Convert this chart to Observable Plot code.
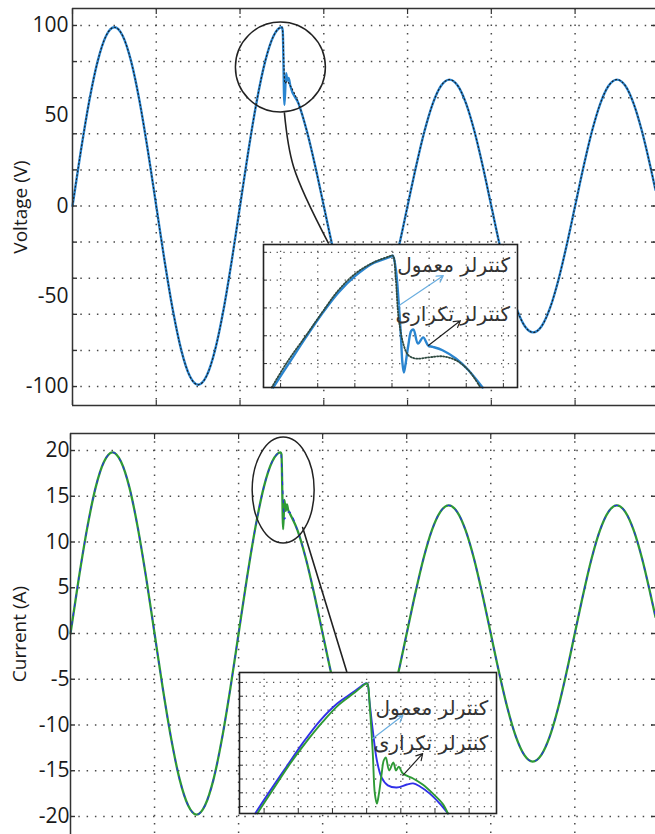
<!DOCTYPE html>
<html><head><meta charset="utf-8">
<script src="https://cdn.jsdelivr.net/npm/d3@7"></script>
<script src="https://cdn.jsdelivr.net/npm/@observablehq/plot@0.6"></script>
<style>
body{margin:0;background:#fff;}
#wrap{position:relative;width:655px;height:834px;overflow:hidden;background:#fff;}
</style></head><body><div id="wrap"></div>
<script>
// ---------- DATA (time in ms) ----------
const xTicks = [0, 10, 20, 30, 40, 50, 60];
const xDomain = [0, 69.6];

const voltDomain = [-110.5, 109.4];
const voltGrid = [-100, -80, -60, -40, -20, 0, 20, 40, 60, 80, 100];
const voltLabels = [-100, -50, 0, 50, 100];

const currDomain = [-21.97, 21.86];
const currGrid = [-20, -15, -10, -5, 0, 5, 10, 15, 20];
const currLabels = [-20, -15, -10, -5, 0, 5, 10, 15, 20];

const tBefore = [0,1,2,3,4,5,6,7,8,9,10,11,12,13,14,15,16,17,18,19,20,21,22,23,24,25];
const tAfter = [26,27,28,29,30,31,32,33,34,35,36,37,38,39,40,41,42,43,44,45,46,47,48,49,50,51,52,53,54,55,56,57,58,59,60,61,62,63,64,65,66,67,68,69,69.6];

const voltBefore = [0,30.6,58.2,80.1,94.2,99,94.2,80.1,58.2,30.6,0,-30.6,-58.2,-80.1,-94.2,-99,-94.2,-80.1,-58.2,-30.6,0,30.6,58.2,80.1,94.2,99];
const voltAfter = [66.6,56.6,41.1,21.6,0,-21.6,-41.1,-56.6,-66.6,-70,-66.6,-56.6,-41.1,-21.6,0,21.6,41.1,56.6,66.6,70,66.6,56.6,41.1,21.6,0,-21.6,-41.1,-56.6,-66.6,-70,-66.6,-56.6,-41.1,-21.6,0,21.6,41.1,56.6,66.6,70,66.6,56.6,41.1,21.6,8.8];
const vRefDistT = [25.1, 25.35, 25.6];
const vRefDistV = [96, 68, 69];
const vMeasDistT = [25.1, 25.3, 25.5, 25.65, 25.8];
const vMeasDistV = [97, 56, 73.5, 69.5, 71];

const currBefore = [0,6.1,11.6,16.0,18.8,19.8,18.8,16.0,11.6,6.1,0,-6.1,-11.6,-16.0,-18.8,-19.8,-18.8,-16.0,-11.6,-6.1,0,6.1,11.6,16.0,18.8,19.8];
const currAfter = [13.3,11.3,8.2,4.3,0,-4.3,-8.2,-11.3,-13.3,-14,-13.3,-11.3,-8.2,-4.3,0,4.3,8.2,11.3,13.3,14,13.3,11.3,8.2,4.3,0,-4.3,-8.2,-11.3,-13.3,-14,-13.3,-11.3,-8.2,-4.3,0,4.3,8.2,11.3,13.3,14,13.3,11.3,8.2,4.3,1.8];
const iGreenDistT = [25.1, 25.3, 25.45, 25.6, 25.75, 25.9];
const iGreenDistV = [19.6, 11.4, 14.6, 13.4, 14.1, 13.5];
const iBlueDistT = [25.2, 25.45, 25.75];
const iBlueDistV = [17.0, 12.5, 13.0];

// annotations (in data units of each main panel)
const topCircle = [{t: 24.82, v: 77}];
const topLinkT = [25.3, 26.4, 30.55];
const topLinkV = [51.5, 21.6, -20.5];
const botEllipse = {t: 25.36, v: 15.63};
const botLinkT = [27.62, 32.86];
const botLinkV = [11.58, -4.15];

// top inset (zoom of voltage)
const insTopXDomain = [23.27, 26.69];
const insTopYDomain = [75.7, 101.4];
const insTopXGrid = [23.5, 24, 24.5, 25, 25.5, 26, 26.5];
const insTopYGrid = [80, 85, 90, 95, 100];
const insTopBlueT = [23.40,23.61,23.84,24.06,24.28,24.51,24.74,24.98,25.01,25.05,25.09,25.12,25.14,25.16,25.18,25.22,25.26,25.29,25.35,25.42,25.49,25.55,25.68,25.86,26.03,26.22];
const insTopBlueV = [75.7,80.0,84.7,89.0,92.8,95.8,98.0,99.2,99.4,97.1,91.0,85.0,80.2,78.4,79.7,83.3,85.9,86.1,83.6,84.7,83.2,83.0,82.4,80.9,78.8,75.7];
const insTopRefT = [23.38,23.59,23.84,24.06,24.28,24.51,24.74,24.95,25.01,25.05,25.09,25.16,25.22,25.32,25.49,25.68,25.86,26.03,26.19];
const insTopRefV = [75.7,80.3,85.0,89.2,93.2,96.2,98.1,99.2,99.4,95.3,88.1,83.2,81.5,80.9,81.1,81.3,80.6,78.8,75.7];
const insTopArrows = [
  {t1: 25.09, v1: 90.4, t2: 25.69, v2: 95.8, c: "#6aaee0"},
  {t1: 25.49, v1: 83.25, t2: 25.92, v2: 87.7, c: "#222"}
];
const insTopLabels = [
  {t: 26.59, v: 97.6, s: "کنترلر معمول"},
  {t: 26.59, v: 88.8, s: "کنترلر تکراری"}
];

// bottom inset (zoom of current)
const insBotXDomain = [23.14, 26.90];
const insBotYDomain = [15.25, 20.36];
const insBotXGrid = [23.5, 24, 24.5, 25, 25.5, 26, 26.5];
const insBotYGrid = [15.5, 16, 16.5, 17, 17.5, 18, 18.5, 19, 19.5, 20];
const insBotBlueT = [23.37,23.59,23.84,24.07,24.32,24.57,24.80,24.98,25.01,25.04,25.09,25.15,25.22,25.31,25.44,25.59,25.68,25.78,25.92,26.07,26.19];
const insBotBlueV = [15.25,16.08,16.99,17.82,18.62,19.24,19.64,19.96,19.96,19.35,18.26,17.17,16.55,16.27,16.19,16.30,16.34,16.23,15.98,15.61,15.25];
const insBotGreenT = [23.40,23.62,23.85,24.10,24.35,24.58,24.83,24.99,25.01,25.05,25.09,25.12,25.15,25.18,25.22,25.25,25.28,25.33,25.39,25.43,25.47,25.53,25.68,25.82,25.97,26.11,26.19];
const insBotGreenV = [15.25,16.08,16.95,17.79,18.55,19.16,19.64,19.96,19.96,18.98,17.43,15.97,15.61,15.97,16.70,17.17,17.28,16.81,17.10,16.81,16.95,16.70,16.52,16.30,15.97,15.61,15.25];
const insBotArrows = [
  {t1: 25.09, v1: 17.97, t2: 25.53, v2: 18.80, c: "#6aaee0"},
  {t1: 25.53, v1: 16.63, t2: 25.82, v2: 17.42, c: "#222"}
];
const insBotLabels = [
  {t: 26.78, v: 19.06, s: "کنترلر معمول"},
  {t: 26.78, v: 17.79, s: "کنترلر تکراری"}
];

// ---------- helpers ----------
const zip = (ts, vs) => ts.map((t, i) => ({t, v: vs[i]}));
const series = (tb, vb, td, vd, ta, va) => [...zip(tb, vb), ...zip(td, vd), ...zip(ta, va)];

const voltRef = series(tBefore, voltBefore, vRefDistT, vRefDistV, tAfter, voltAfter);
const voltMeas = series(tBefore, voltBefore, vMeasDistT, vMeasDistV, tAfter, voltAfter);
const currGreen = series(tBefore, currBefore, iGreenDistT, iGreenDistV, tAfter, currAfter);
const currBlue = series(tBefore, currBefore, iBlueDistT, iBlueDistV, tAfter, currAfter);

const gridStyle = {stroke: "#4a4a4a", strokeOpacity: 1, strokeWidth: 1.5, strokeDasharray: "1.5,6.8"};
const frameStyle = {stroke: "#333", strokeWidth: 1.5};
const font = "'Open Sans', 'Noto Sans', sans-serif";
const faFont = "'DejaVu Sans', sans-serif";
const wrap = document.getElementById("wrap");
const noLabel = () => "";

function xTickAxes(ticks, anchors) {
  return anchors.map(anchor => Plot.axisX({anchor, ticks, tickSize: -5, tickFormat: noLabel, label: null, stroke: "#333", strokeWidth: 1.2}));
}
function yTickAxes(ticks) {
  return ["left", "right"].map(anchor => Plot.axisY({anchor, ticks, tickSize: -5, tickFormat: noLabel, label: null, stroke: "#333", strokeWidth: 1.4}));
}

// ---------- TOP PANEL ----------
const topPlot = Plot.plot({
  width: 655, height: 420,
  marginLeft: 72, marginRight: 0, marginTop: 8, marginBottom: 15,
  x: {domain: xDomain, axis: null},
  y: {domain: voltDomain, axis: null},
  style: {position: "absolute", left: "0px", top: "0px", overflow: "visible", background: "transparent", fontFamily: font, color: "#222"},
  marks: [
    Plot.ruleX(xTicks.slice(1), gridStyle),
    Plot.ruleY(voltGrid, gridStyle),
    Plot.line(voltMeas, {x: "t", y: "v", stroke: "#2a85d0", strokeWidth: 2.4, curve: "monotone-x"}),
    Plot.line(voltRef, {x: "t", y: "v", stroke: "#1a1a1a", strokeWidth: 1.1, strokeDasharray: "1.2,2.6", curve: "monotone-x"}),
    Plot.dot(topCircle, {x: "t", y: "v", r: 45, stroke: "#222", strokeWidth: 1.5, fill: "none"}),
    Plot.line(zip(topLinkT, topLinkV), {x: "t", y: "v", curve: "catmull-rom", stroke: "#222", strokeWidth: 1.6}),
    Plot.ruleX([xDomain[0]], frameStyle),
    Plot.ruleY(voltDomain, frameStyle),
    ...xTickAxes(xTicks, ["top", "bottom"]),
    ...yTickAxes(voltGrid),
    Plot.text(voltLabels, {frameAnchor: "left", y: d => d, text: d => String(d), textAnchor: "end", dx: -4, fontSize: 21, fill: "#1a1a1a"}),
    Plot.text(["Voltage (V)"], {frameAnchor: "left", dx: -52, rotate: -90, textAnchor: "middle", fontSize: 19, fill: "#1a1a1a"})
  ]
});
wrap.appendChild(topPlot);

// ---------- BOTTOM PANEL ----------
const botPlot = Plot.plot({
  width: 655, height: 414,
  marginLeft: 70, marginRight: 0, marginTop: 13, marginBottom: 0,
  x: {domain: xDomain, axis: null},
  y: {domain: currDomain, axis: null},
  style: {position: "absolute", left: "0px", top: "420px", overflow: "visible", background: "transparent", fontFamily: font, color: "#222"},
  marks: [
    Plot.ruleX(xTicks.slice(1), gridStyle),
    Plot.ruleY(currGrid, gridStyle),
    Plot.line(currGreen, {x: "t", y: "v", stroke: "#2e9a35", strokeWidth: 2.3, curve: "monotone-x"}),
    Plot.line(currBlue, {x: "t", y: "v", stroke: "#2a2af0", strokeWidth: 1.1, strokeDasharray: "3,6", curve: "monotone-x"}),
    Plot.line(zip(botLinkT, botLinkV), {x: "t", y: "v", stroke: "#222", strokeWidth: 1.6}),
    Plot.ruleX([xDomain[0]], frameStyle),
    Plot.ruleY([currDomain[1]], frameStyle),
    ...xTickAxes(xTicks, ["top"]),
    ...yTickAxes(currGrid),
    Plot.text(currLabels, {frameAnchor: "left", y: d => d, text: d => String(d), textAnchor: "end", dx: -1, fontSize: 21, fill: "#1a1a1a"}),
    Plot.text(["Current (A)"], {frameAnchor: "left", dx: -51, rotate: -90, textAnchor: "middle", fontSize: 19, fill: "#1a1a1a"})
  ]
});
wrap.appendChild(botPlot);
{
  const sx = botPlot.scale("x"), sy = botPlot.scale("y");
  d3.select(botPlot).append("ellipse")
    .attr("cx", sx.apply(botEllipse.t)).attr("cy", sy.apply(botEllipse.v))
    .attr("rx", 31).attr("ry", 53)
    .attr("fill", "none").attr("stroke", "#222").attr("stroke-width", 1.5);
}

// ---------- INSETS ----------
const insetGrid = {stroke: "#555", strokeWidth: 1.3, strokeDasharray: "1.3,5.5"};
function insetTicks(xg, yg) {
  return [
    Plot.axisX({anchor: "bottom", ticks: xg, tickSize: -4, tickFormat: noLabel, label: null, stroke: "#333"}),
    Plot.axisY({anchor: "left", ticks: yg, tickSize: -4, tickFormat: noLabel, label: null, stroke: "#333"})
  ];
}

const insTop = Plot.plot({
  width: 254, height: 143, margin: 0,
  x: {domain: insTopXDomain, axis: null},
  y: {domain: insTopYDomain, axis: null},
  style: {position: "absolute", left: "263px", top: "244px", overflow: "visible", background: "white", fontFamily: faFont},
  marks: [
    Plot.ruleX(insTopXGrid, insetGrid),
    Plot.ruleY(insTopYGrid, insetGrid),
    Plot.line(zip(insTopBlueT, insTopBlueV), {x: "t", y: "v", stroke: "#2a85d0", strokeWidth: 2.4, curve: "catmull-rom"}),
    Plot.line(zip(insTopRefT, insTopRefV), {x: "t", y: "v", stroke: "#2f4a40", strokeWidth: 1.8, strokeDasharray: "1.2,1.8", curve: "catmull-rom"}),
    Plot.arrow(insTopArrows, {x1: "t1", y1: "v1", x2: "t2", y2: "v2", stroke: "c", strokeWidth: 1.2, headLength: 9}),
    Plot.text(insTopLabels, {x: "t", y: "v", text: "s", textAnchor: "end", fontSize: 20, fill: "#333", fontFamily: faFont}),
    ...insetTicks(insTopXGrid, insTopYGrid),
    Plot.frame({stroke: "#222", strokeWidth: 1.6})
  ]
});
wrap.appendChild(insTop);

const insBot = Plot.plot({
  width: 257, height: 141, margin: 0,
  x: {domain: insBotXDomain, axis: null},
  y: {domain: insBotYDomain, axis: null},
  style: {position: "absolute", left: "239px", top: "672px", overflow: "visible", background: "white", fontFamily: faFont},
  marks: [
    Plot.ruleX(insBotXGrid, insetGrid),
    Plot.ruleY(insBotYGrid, insetGrid),
    Plot.line(zip(insBotBlueT, insBotBlueV), {x: "t", y: "v", stroke: "#3030e8", strokeWidth: 1.9, curve: "catmull-rom"}),
    Plot.line(zip(insBotGreenT, insBotGreenV), {x: "t", y: "v", stroke: "#2e9a35", strokeWidth: 1.9, curve: "catmull-rom"}),
    Plot.arrow(insBotArrows, {x1: "t1", y1: "v1", x2: "t2", y2: "v2", stroke: "c", strokeWidth: 1.2, headLength: 9}),
    Plot.text(insBotLabels, {x: "t", y: "v", text: "s", textAnchor: "end", fontSize: 20, fill: "#333", fontFamily: faFont}),
    ...insetTicks(insBotXGrid, insBotYGrid),
    Plot.frame({stroke: "#222", strokeWidth: 1.6})
  ]
});
wrap.appendChild(insBot);
</script>
</body></html>
